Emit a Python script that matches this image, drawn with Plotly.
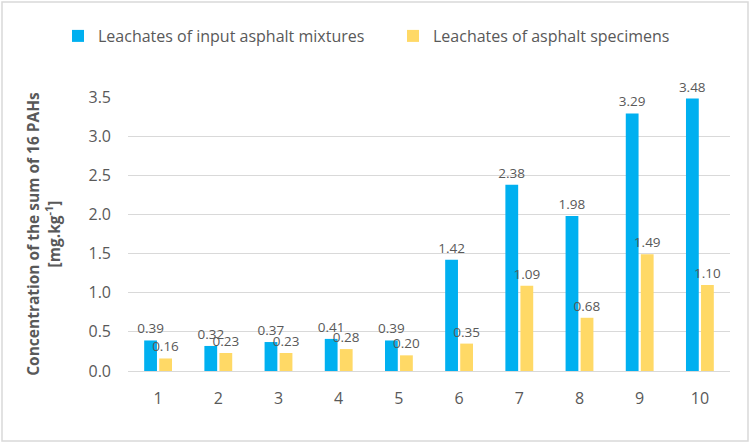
import plotly.graph_objects as go

categories = ["1", "2", "3", "4", "5", "6", "7", "8", "9", "10"]
input_mixtures = [0.39, 0.32, 0.37, 0.41, 0.39, 1.42, 2.38, 1.98, 3.29, 3.48]
specimens = [0.16, 0.23, 0.23, 0.28, 0.20, 0.35, 1.09, 0.68, 1.49, 1.10]
series_names = ["Leachates of input asphalt mixtures", "Leachates of asphalt specimens"]
y_ticks = [0.0, 0.5, 1.0, 1.5, 2.0, 2.5, 3.0, 3.5]

W, H = 751, 444
L, R, T, B = 128, 21, 97, 73
FONT = "Open Sans"
GRAY = "#595959"

fig = go.Figure()
for name, vals, col in [(series_names[0], input_mixtures, "#00b0f0"),
                        (series_names[1], specimens, "#ffd966")]:
    fig.add_trace(go.Bar(
        x=categories, y=vals, name=name, marker=dict(color=col, line=dict(width=0)),
        text=[f"{v:.2f}" for v in vals], textposition="outside",
        textfont=dict(family=FONT, size=13.5, color=GRAY),
        constraintext="none", textangle=0,
        cliponaxis=False,
    ))

pw = W - L - R
ph = H - T - B
fig.add_shape(type="rect", xref="paper", yref="paper",
              x0=(2 - L) / pw, x1=(W - 3 - L) / pw,
              y0=-(H - 3 - (H - B)) / ph,
              y1=1 + (T - 2) / ph,
              line=dict(color="#d9d9d9", width=1.5))

fig.update_layout(
    width=W, height=H,
    margin=dict(l=L, r=R, t=T, b=B, autoexpand=False),
    paper_bgcolor="white", plot_bgcolor="white",
    barmode="group", bargap=0.5, bargroupgap=0.15,
    font=dict(family=FONT, color=GRAY),
    legend=dict(orientation="h", x=(58 - L) / pw, xanchor="left",
                y=1 + (T - 36) / ph, yanchor="middle",
                font=dict(family=FONT, size=16, color=GRAY), itemwidth=30,
                entrywidth=290, entrywidthmode="pixels",
                traceorder="normal"),
    xaxis=dict(showgrid=False, showline=True, linecolor="#d9d9d9", linewidth=1,
               tickfont=dict(family=FONT, size=16, color=GRAY), ticks="",
               ticklabelstandoff=13),
    yaxis=dict(range=[0, 3.5], tickvals=y_ticks, ticktext=[f"{v:.1f}" for v in y_ticks],
               showgrid=True, gridcolor="#d9d9d9", gridwidth=1, zeroline=False,
               tickfont=dict(family=FONT, size=16, color=GRAY), ticklabelstandoff=16,
               title=dict(text="<b>Concentration of the sum of 16 PAHs</b><br><b>[mg.kg<sup>-1</sup>]</b>",
                          font=dict(family=FONT, size=15.5, color=GRAY), standoff=24)),
    showlegend=True,
)

fig.write_html("out.html")
